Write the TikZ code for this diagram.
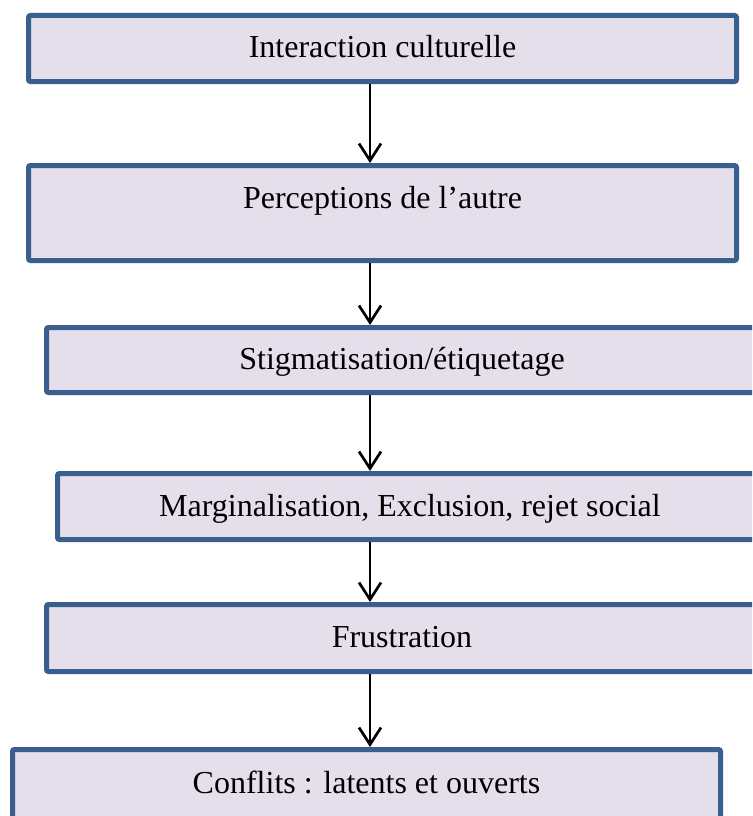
\documentclass[tikz,border=0pt]{standalone}
\usepackage{fontspec}
\setmainfont{Liberation Serif}
\usetikzlibrary{arrows.meta}
\definecolor{boxfill}{HTML}{E5DFEC}
\definecolor{boxline}{HTML}{3A5F8E}
\begin{document}
\begin{tikzpicture}[x=1pt,y=-1pt,
  flowbox/.style={draw=boxline, fill=boxfill, line width=5pt, rounded corners=2pt,
    inner sep=0pt, text height=22pt, text depth=3pt, font=\fontsize{32}{38}\selectfont},
  arr/.style={draw=black, line width=2.7pt, -{Straight Barb[length=17pt,width=22pt]}}]
\useasboundingbox (0,0) rectangle (752,816);
\fill[white] (0,0) rectangle (752,816);
\clip (0,0) rectangle (752,816);
\node[flowbox, minimum width=708pt, minimum height=66pt] (b1) at (382.5,48.5) {Interaction culturelle};
\node[flowbox, minimum width=708pt, minimum height=95pt, text depth=32pt] (b2) at (382.5,213) {Perceptions de l’autre};
\node[flowbox, minimum width=711pt, minimum height=65pt] (b3) at (402,360) {Stigmatisation/étiquetage};
\node[flowbox, minimum width=705pt, minimum height=66pt] (b4) at (410,506.5) {Marginalisation, Exclusion, rejet social};
\node[flowbox, minimum width=711pt, minimum height=67pt] (b5) at (402,638) {Frustration};
\node[flowbox, minimum width=708pt, minimum height=78pt, text depth=13pt] (b6) at (366.5,788.5) {Conflits : latents et ouverts};
\coordinate (ax) at (370,0);
\draw[arr] (ax |- b1.south) -- (ax |- b2.north);
\draw[arr] (ax |- b2.south) -- (ax |- b3.north);
\draw[arr] (ax |- b3.south) -- (ax |- b4.north);
\draw[arr] (ax |- b4.south) -- (ax |- b5.north);
\draw[arr] (ax |- b5.south) -- (ax |- b6.north);
\end{tikzpicture}
\end{document}
